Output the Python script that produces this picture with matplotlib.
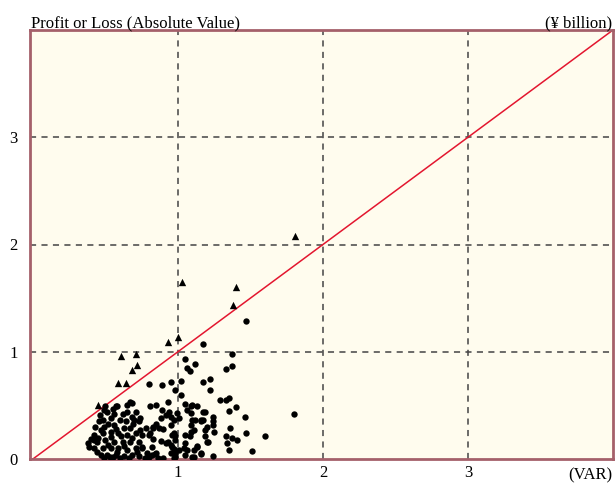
import numpy as np
import matplotlib
matplotlib.use("Agg")
import matplotlib.pyplot as plt

plt.rcParams['font.family'] = ['Liberation Serif', 'DejaVu Serif']

# VAR vs absolute profit/loss (¥ billion)
# days where loss exceeded VAR (triangles)
tri_var = [1.81, 1.03, 1.40, 1.38, 0.93, 1.00, 0.61, 0.71, 0.72, 0.68, 0.59, 0.64, 0.45]
tri_pl = [2.08, 1.65, 1.60, 1.44, 1.09, 1.14, 0.96, 0.98, 0.88, 0.83, 0.71, 0.71, 0.50]

# ordinary days (dots)
dot_var = [
    1.47, 1.17, 1.37, 1.05, 1.12, 1.06, 1.08, 1.33, 1.37, 1.22, 1.17, 1.02, 0.955, 0.89, 0.80,
    0.98, 1.22, 1.02, 1.29, 1.33, 1.35, 1.40, 1.35, 1.46, 1.80, 1.36, 1.47, 1.60, 1.33, 1.37,
    1.41, 1.34, 1.51, 1.35,
    1.13, 1.17, 1.19, 1.24, 1.24, 1.12, 1.16, 1.17, 1.24, 1.20, 1.19, 1.25, 1.21, 1.13, 1.16,
    1.24, 1.11,
    0.93, 0.85, 0.81, 1.05, 1.09, 0.89, 0.94, 0.995, 1.06, 1.09, 0.915, 0.88, 0.95, 1.01, 1.10,
    1.16, 0.85, 0.955, 1.09, 0.87, 0.90, 0.83, 1.09, 0.97, 0.81, 0.98, 1.05, 1.19, 0.83, 0.88,
    0.93, 1.05, 1.13, 1.20, 0.95, 0.82, 0.97, 1.06, 0.85, 0.98, 1.16, 1.05, 1.10, 0.98, 0.82,
    0.74, 0.74, 0.78, 0.80, 0.75, 0.80, 0.97, 1.01, 0.96, 0.97, 1.10, 1.11, 1.08, 0.96, 0.98,
    0.915, 0.95, 1.04, 1.11, 0.83,
    0.50, 0.55, 0.58, 0.65, 0.68, 0.71, 0.65, 0.51, 0.455, 0.48, 0.54, 0.60, 0.64, 0.70, 0.73,
    0.43, 0.49, 0.56, 0.63, 0.67, 0.42, 0.48, 0.54, 0.59, 0.65, 0.71, 0.75, 0.38, 0.44, 0.50,
    0.56, 0.62, 0.67, 0.73, 0.42, 0.48, 0.54, 0.59, 0.65, 0.71, 0.75, 0.47, 0.51, 0.57, 0.63,
    0.68, 0.73, 0.49, 0.60, 0.66,
    0.45, 0.54, 0.63, 0.58, 0.52, 0.68, 0.72, 0.44, 0.40, 0.61, 0.57, 0.47, 0.69, 0.52, 0.62,
    0.56, 0.46, 0.49, 0.57, 0.67, 0.68, 0.39, 0.42, 0.55, 0.53, 0.77, 0.86, 0.90, 0.84, 0.79,
]
dot_pl = [
    1.29, 1.07, 0.98, 0.93, 0.89, 0.85, 0.82, 0.84, 0.87, 0.75, 0.72, 0.73, 0.72, 0.69, 0.70,
    0.645, 0.645, 0.60, 0.55, 0.55, 0.57, 0.485, 0.45, 0.395, 0.42, 0.29, 0.245, 0.21, 0.21, 0.20,
    0.18, 0.15, 0.075, 0.08,
    0.49, 0.44, 0.44, 0.395, 0.35, 0.365, 0.365, 0.365, 0.32, 0.295, 0.27, 0.25, 0.16, 0.115, 0.05,
    0.03, 0.02,
    0.53, 0.50, 0.495, 0.51, 0.49, 0.46, 0.44, 0.43, 0.46, 0.43, 0.41, 0.38, 0.395, 0.38, 0.365,
    0.35, 0.33, 0.32, 0.32, 0.29, 0.28, 0.29, 0.25, 0.24, 0.24, 0.21, 0.22, 0.215, 0.19, 0.17,
    0.16, 0.145, 0.12, 0.155, 0.13, 0.115, 0.09, 0.085, 0.06, 0.055, 0.055, 0.04, 0.02, 0.02, 0.04,
    0.38, 0.27, 0.29, 0.22, 0.115, 0.02, 0.01, 0.085, 0.115, 0.365, 0.50, 0.27, 0.21, 0.22, 0.18,
    0.145, 0.055, 0.10, 0.085, 0.30,
    0.495, 0.47, 0.49, 0.50, 0.52, 0.44, 0.44, 0.44, 0.355, 0.365, 0.38, 0.365, 0.35, 0.365, 0.35,
    0.30, 0.30, 0.32, 0.29, 0.29, 0.22, 0.24, 0.255, 0.24, 0.22, 0.24, 0.22, 0.145, 0.16, 0.18,
    0.16, 0.16, 0.16, 0.16, 0.10, 0.10, 0.10, 0.10, 0.085, 0.10, 0.105, 0.04, 0.04, 0.04, 0.03,
    0.04, 0.03, 0.01, 0.01, 0.01,
    0.20, 0.205, 0.125, 0.065, 0.135, 0.195, 0.065, 0.065, 0.19, 0.21, 0.28, 0.27, 0.33, 0.33, 0.42,
    0.42, 0.41, 0.46, 0.495, 0.53, 0.39, 0.11, 0.18, 0.02, 0.015, 0.01, 0.01, 0.005, 0.045, 0.06,
]

ticks = [1, 2, 3]

fig = plt.figure(figsize=(6.16, 4.84), dpi=100)
fig.patch.set_facecolor('white')
ax = fig.add_axes([30 / 616, 25 / 484, 583 / 616, 429 / 484])
ax.set_facecolor('#fffcee')

ax.set_xlim(-0.02, 4.0)
ax.set_ylim(0, 4.0)

for t in ticks:
    ax.axvline(t, color='#444444', lw=1.1, ls=(0, (4, 3.5)), zorder=1)
    ax.axhline(t, color='#444444', lw=1.1, ls=(0, (4, 3.5)), zorder=1)

# 45 degree line: loss = VAR
ax.plot([-0.02, 4.0], [-0.02, 4.0], color='#e3162f', lw=1.1, zorder=2)

ax.scatter(dot_var, dot_pl, s=21, color='black', marker='o', linewidths=0, zorder=3)
ax.scatter(tri_var, tri_pl, s=28, color='black', marker='^', linewidths=0, zorder=3)

for sp in ax.spines.values():
    sp.set_color('#a5606a')
    sp.set_linewidth(2.0)

ax.set_xticks(ticks)
ax.set_xticklabels([str(t) for t in ticks])
ax.set_yticks([0] + ticks)
ax.set_yticklabels(['0'] + [str(t) for t in ticks])
ax.tick_params(length=0, labelsize=12)
ax.tick_params(axis='x', pad=4)
ax.tick_params(axis='y', pad=9)

fig.text(31 / 616, 1 - 27 / 484, 'Profit or Loss (Absolute Value)', fontsize=12,
         ha='left', va='baseline')
fig.text(612 / 616, 1 - 27 / 484, '(¥ billion)', fontsize=12, ha='right', va='baseline')
fig.text(612 / 616, 1 - 479 / 484, '(VAR)', fontsize=12, ha='right', va='baseline')

plt.savefig('out.png', dpi=100, facecolor=fig.get_facecolor())
